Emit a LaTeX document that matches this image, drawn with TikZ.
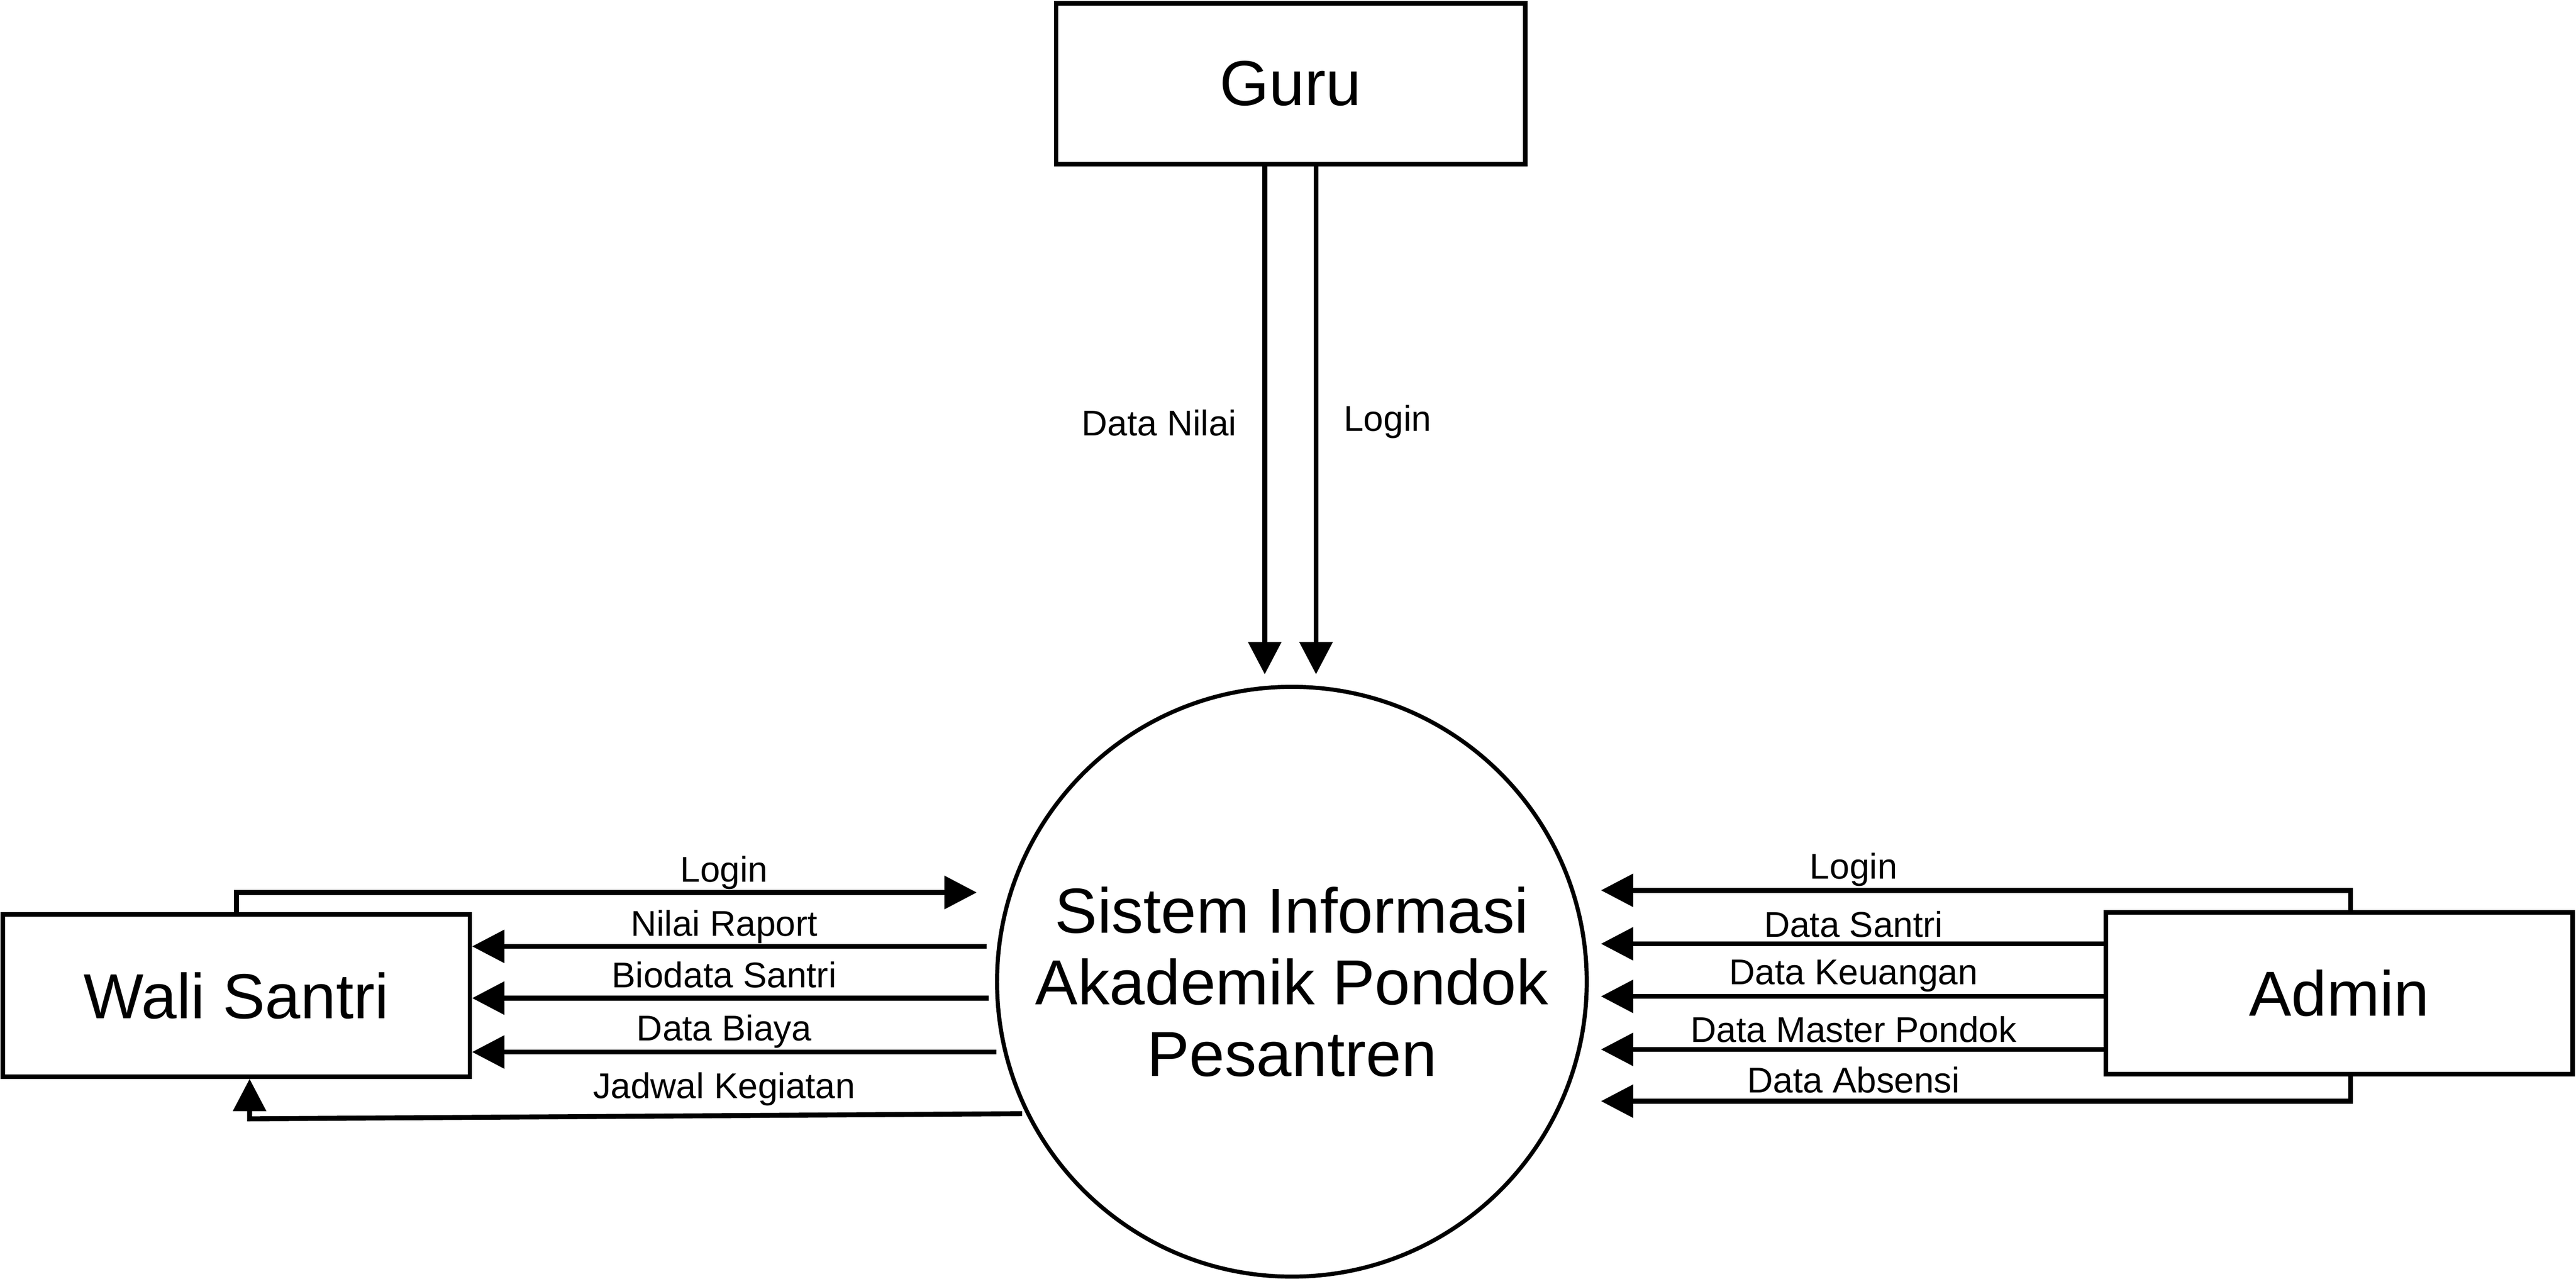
\documentclass[tikz,border=0pt]{standalone}
\usepackage{fontspec}
\setmainfont{Liberation Sans}
\usetikzlibrary{arrows.meta}
\begin{document}
\begin{tikzpicture}[
  entity/.style={draw, rectangle, line width=1.05mm, inner sep=0pt, font=\fontsize{42}{47}\selectfont},
  proc/.style={draw, circle, line width=0.95mm, inner sep=0pt, minimum size=13.68cm, align=center, font=\fontsize{42}{47.2}\selectfont},
  flow/.style={line width=1.15mm, -{Triangle[length=7.5mm, width=7.5mm]}},
  lbl/.style={anchor=base, inner sep=0pt, font=\fontsize{23.6}{28}\selectfont}]
\useasboundingbox (0,0) rectangle (59.76,29.66);

\node[entity, minimum width=10.88cm, minimum height=3.73cm] (guru) at (29.94,27.72) {Guru};
\node[entity, minimum width=10.83cm, minimum height=3.76cm] (wali) at (5.485,6.57) {Wali Santri};
\node[entity, minimum width=10.83cm, minimum height=3.75cm] (admin) at (54.265,6.625) {Admin};
\node[proc] (sis) at (29.97,6.89) {Sistem Informasi\\Akademik Pondok\\Pesantren};

\coordinate (gNilai) at (29.34,14.02);
\coordinate (gLogin) at (30.53,14.02);
\draw[flow] (guru.south -| gNilai) -- (gNilai);
\draw[flow] (guru.south -| gLogin) -- (gLogin);
\node[lbl] (lNilai) at (26.89,19.56) {Data Nilai};
\node[lbl] (lGLogin) at (32.19,19.66) {Login};

\coordinate (wLogin) at (22.66,8.96);
\coordinate (wRaport) at (22.89,7.71);
\coordinate (wBiodata) at (22.94,6.51);
\coordinate (wBiaya) at (23.12,5.26);
\coordinate (wJadwal) at (23.71,3.83);
\coordinate (wBend) at (5.79,3.71);
\draw[flow] (wali.north) |- (wLogin);
\draw[flow] (wRaport) -- (wRaport -| wali.east);
\draw[flow] (wBiodata) -- (wBiodata -| wali.east);
\draw[flow] (wBiaya) -- (wBiaya -| wali.east);
\draw[flow] (wJadwal) -- (wBend) -- (wBend |- wali.south);
\node[lbl] (lWLogin) at (16.80,9.21) {Login};
\node[lbl] (lRaport) at (16.80,7.95) {Nilai Raport};
\node[lbl] (lBiodata) at (16.80,6.76) {Biodata Santri};
\node[lbl] (lBiaya) at (16.80,5.52) {Data Biaya};
\node[lbl] (lJadwal) at (16.80,4.18) {Jadwal Kegiatan};

\coordinate (aLogin) at (37.14,9.01);
\coordinate (aSantri) at (37.14,7.77);
\coordinate (aUang) at (37.14,6.55);
\coordinate (aMaster) at (37.14,5.32);
\coordinate (aAbsen) at (37.14,4.12);
\draw[flow] ([xshift=2.65mm]admin.north) |- (aLogin);
\draw[flow] (admin.west |- aSantri) -- (aSantri);
\draw[flow] (admin.west |- aUang) -- (aUang);
\draw[flow] (admin.west |- aMaster) -- (aMaster);
\draw[flow] ([xshift=2.65mm]admin.south) |- (aAbsen);
\node[lbl] (lALogin) at (43.00,9.27) {Login};
\node[lbl] (lSantri) at (43.00,7.93) {Data Santri};
\node[lbl] (lUang) at (43.00,6.82) {Data Keuangan};
\node[lbl] (lMaster) at (43.00,5.49) {Data Master Pondok};
\node[lbl] (lAbsen) at (43.00,4.31) {Data Absensi};
\end{tikzpicture}
\end{document}
